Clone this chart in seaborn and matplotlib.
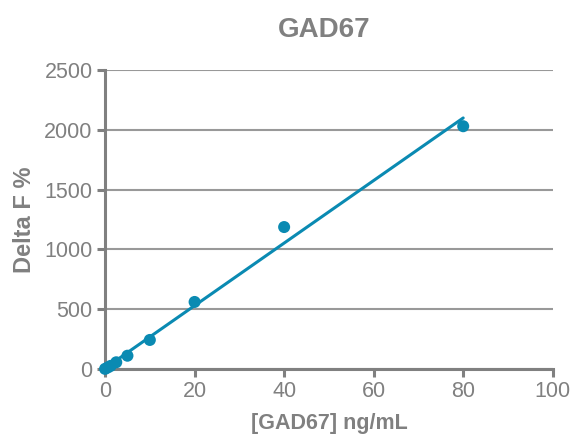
import numpy as np
import pandas as pd
import matplotlib
matplotlib.use("Agg")
import matplotlib.pyplot as plt
import seaborn as sns

# Standard curve values
conc = [0, 0.625, 1.25, 2.5, 5, 10, 20, 40, 80]
delta_f = [0, 12, 25, 55, 110, 242, 560, 1187, 2031]
x_ticks = [0, 20, 40, 60, 80, 100]
y_ticks = [0, 500, 1000, 1500, 2000, 2500]

df = pd.DataFrame({"conc": conc, "delta_f": delta_f})

sns.set_theme(style="white")
plt.rcParams["font.family"] = ["Liberation Sans", "DejaVu Sans"]

blue = "#0a8ab2"
grey = "#808080"

fig = plt.figure(figsize=(5.71, 4.36), dpi=100)
ax = fig.add_axes([0.184, 0.154, 0.784, 0.685])

sns.regplot(data=df, x="conc", y="delta_f", ax=ax, ci=None, truncate=True,
            color=blue,
            scatter_kws={"s": 75, "alpha": 1, "clip_on": False, "zorder": 4, "edgecolor": "none"},
            line_kws={"lw": 2.2, "clip_on": False, "zorder": 3})

ax.set_xlim(0, 100)
ax.set_ylim(0, 2500)
ax.set_xticks(x_ticks)
ax.set_yticks(y_ticks)
ax.yaxis.grid(True, color="#999999", lw=1.5)
ax.xaxis.grid(False)
ax.set_axisbelow(True)

for side in ["top", "right"]:
    ax.spines[side].set_visible(False)
for side in ["left", "bottom"]:
    ax.spines[side].set_color(grey)
    ax.spines[side].set_linewidth(2.2)

ax.tick_params(axis="both", direction="out", length=6, width=2.2, color=grey,
               labelcolor=grey, labelsize=15.5, pad=3, bottom=True, left=True)

ax.set_xlabel("[GAD67] ng/mL", fontsize=15.5, fontweight="bold", color=grey, labelpad=8)
ax.set_ylabel("Delta F %", fontsize=17, fontweight="bold", color=grey, labelpad=6)
ax.set_title("GAD67", fontsize=20, fontweight="bold", color=grey, pad=24, x=0.49)

fig.savefig("out.png", dpi=100)
